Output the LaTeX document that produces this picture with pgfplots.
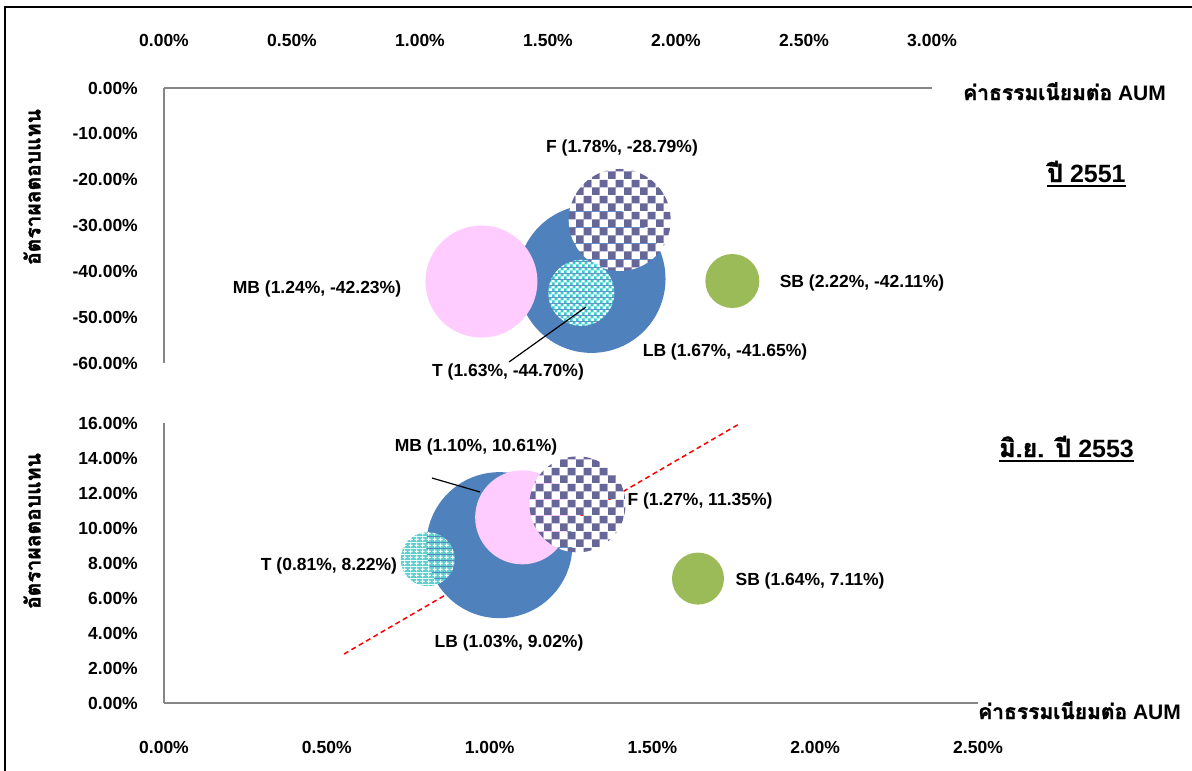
\documentclass[border=0pt]{standalone}
\usepackage{fontspec}
\setmainfont{Liberation Sans}
\newfontfamily\thaifont[Script=Thai, BoldFeatures={FakeBold=1.6}]{Loma}
\usepackage{pgfplots}
\pgfplotsset{compat=1.18}
\usetikzlibrary{patterns}

\definecolor{lbblue}{HTML}{4F81BD}
\definecolor{mbpink}{HTML}{FFCCFF}
\definecolor{sbgreen}{HTML}{9BBB59}
\definecolor{fpurple}{HTML}{666699}
\definecolor{tteal}{HTML}{33CCCC}
\definecolor{tteallight}{HTML}{5CCFCF}
\definecolor{axisgray}{HTML}{868686}

\newcommand\lbl{\fontsize{17.5}{21}\selectfont\bfseries}
\newcommand\ttl{\fontsize{21}{24}\selectfont\bfseries}
\newcommand\yr{\fontsize{25}{28}\selectfont\bfseries}

% fill patterns for the F and T bubbles
\pgfdeclarepatterninherentlycolored{fcheck}{\pgfpointorigin}{\pgfpoint{16pt}{16pt}}{\pgfpoint{16pt}{16pt}}{%
  \pgfsetfillcolor{white}\pgfpathrectangle{\pgfpointorigin}{\pgfpoint{16pt}{16pt}}\pgfusepath{fill}%
  \pgfsetfillcolor{fpurple}%
  \pgfpathrectangle{\pgfpointorigin}{\pgfpoint{8pt}{8pt}}%
  \pgfpathrectangle{\pgfpoint{8pt}{8pt}}{\pgfpoint{8pt}{8pt}}\pgfusepath{fill}}
\pgfdeclarepatterninherentlycolored{tcheck}{\pgfpointorigin}{\pgfpoint{6pt}{6pt}}{\pgfpoint{6pt}{6pt}}{%
  \pgfsetfillcolor{white}\pgfpathrectangle{\pgfpointorigin}{\pgfpoint{6pt}{6pt}}\pgfusepath{fill}%
  \pgfsetfillcolor{tteal}%
  \pgfpathrectangle{\pgfpointorigin}{\pgfpoint{3pt}{3pt}}%
  \pgfpathrectangle{\pgfpoint{3pt}{3pt}}{\pgfpoint{3pt}{3pt}}\pgfusepath{fill}}
\pgfdeclarepatterninherentlycolored{tcross}{\pgfpointorigin}{\pgfpoint{5.5pt}{5.5pt}}{\pgfpoint{5.5pt}{5.5pt}}{%
  \pgfsetfillcolor{tteallight}\pgfpathrectangle{\pgfpointorigin}{\pgfpoint{5.5pt}{5.5pt}}\pgfusepath{fill}%
  \pgfsetfillcolor{white}%
  \pgfpathrectangle{\pgfpoint{2.2pt}{0.6pt}}{\pgfpoint{1.1pt}{4.3pt}}%
  \pgfpathrectangle{\pgfpoint{0.6pt}{2.2pt}}{\pgfpoint{4.3pt}{1.1pt}}\pgfusepath{fill}}

% bubble marks
\pgfdeclareplotmark{lbdisc}{\pgfpathcircle{\pgfpointorigin}{\pgfplotmarksize}\pgfsetfillcolor{lbblue}\pgfusepathqfill}
\pgfdeclareplotmark{mbdisc}{\pgfpathcircle{\pgfpointorigin}{\pgfplotmarksize}\pgfsetfillcolor{mbpink}\pgfusepathqfill}
\pgfdeclareplotmark{sbdisc}{\pgfpathcircle{\pgfpointorigin}{\pgfplotmarksize}\pgfsetfillcolor{sbgreen}\pgfusepathqfill}
\pgfdeclareplotmark{fdisc}{\pgfpathcircle{\pgfpointorigin}{\pgfplotmarksize}\pgfsetfillpattern{fcheck}{black}\pgfusepathqfill}
\pgfdeclareplotmark{tdisc}{\pgfpathcircle{\pgfpointorigin}{\pgfplotmarksize}\pgfsetfillpattern{tcheck}{black}\pgfusepathqfill}
\pgfdeclareplotmark{tcrossdisc}{\pgfpathcircle{\pgfpointorigin}{\pgfplotmarksize}\pgfsetfillpattern{tcross}{black}\pgfusepathqfill}

\pgfplotsset{
  bubbleaxis/.style={
    scale only axis, clip=false,
    axis line style={draw=axisgray, line width=2pt},
    every outer x axis line/.append style={-},
    every outer y axis line/.append style={-},
    every inner x axis line/.append style={-},
    every inner y axis line/.append style={-},
    x axis line style={-},
    y axis line style={-},
    major tick length=0pt,
    xticklabel style={font=\lbl, anchor=center, inner sep=0pt},
    yticklabel style={font=\lbl, anchor=east, inner sep=0pt, xshift=-26pt},
  },
}

\begin{document}
\begin{tikzpicture}

% ---------- 2551 ----------
\begin{axis}[bubbleaxis,
  at={(164pt,-363pt)}, anchor=south west,
  width=768pt, height=275pt,
  xmin=0, xmax=3, ymin=-60, ymax=0,
  axis x line=top, axis y line=left,
  x axis line style={-}, y axis line style={-},
  xtick={0,0.5,1,1.5,2,2.5,3},
  xticklabels={0.00\%,0.50\%,1.00\%,1.50\%,2.00\%,2.50\%,3.00\%},
  ytick={-60,-50,-40,-30,-20,-10,0},
  yticklabels={-60.00\%,-50.00\%,-40.00\%,-30.00\%,-20.00\%,-10.00\%,0.00\%},
  xticklabel style={yshift=48pt},
]
\addplot[only marks, mark=lbdisc, mark size=74pt] coordinates {(1.67,-41.65)};
\addplot[only marks, mark=mbdisc, mark size=56pt] coordinates {(1.24,-42.23)};
\addplot[only marks, mark=fdisc, mark size=51pt] coordinates {(1.78,-28.79)};
\addplot[only marks, mark=tdisc, mark size=33pt] coordinates {(1.63,-44.70)};
\addplot[only marks, mark=sbdisc, mark size=27pt] coordinates {(2.22,-42.11)};
\end{axis}

% ---------- June 2553 ----------
\begin{axis}[bubbleaxis,
  at={(164pt,-703pt)}, anchor=south west,
  width=814pt, height=280pt,
  xmin=0, xmax=2.5, ymin=0, ymax=16,
  axis x line=bottom, axis y line=left,
  x axis line style={-}, y axis line style={-},
  xtick={0,0.5,1,1.5,2,2.5},
  xticklabels={0.00\%,0.50\%,1.00\%,1.50\%,2.00\%,2.50\%},
  ytick={0,2,4,6,8,10,12,14,16},
  yticklabels={0.00\%,2.00\%,4.00\%,6.00\%,8.00\%,10.00\%,12.00\%,14.00\%,16.00\%},
  xticklabel style={yshift=-44pt},
]
\addplot[only marks, mark=lbdisc, mark size=73pt] coordinates {(1.03,9.02)};
\addplot[only marks, mark=mbdisc, mark size=47pt] coordinates {(1.10,10.61)};
\addplot[only marks, mark=fdisc, mark size=48pt] coordinates {(1.27,11.35)};
\addplot[only marks, mark=tcrossdisc, mark size=27pt] coordinates {(0.81,8.22)};
\addplot[only marks, mark=sbdisc, mark size=26pt] coordinates {(1.64,7.11)};
% linear trend
\addplot[red, line width=1.5pt, dash pattern=on 5pt off 3.5pt] coordinates {(0.553,2.8) (1.766,15.94)};
\end{axis}

% data labels and leader lines
\begin{scope}[every node/.style={font=\lbl, inner sep=0pt}]
\node at (622pt,-148pt) {F (1.78\%, -28.79\%)};
\node at (317pt,-289pt) {MB (1.24\%, -42.23\%)};
\node at (508pt,-372pt) {T (1.63\%, -44.70\%)};
\node at (725pt,-352pt) {LB (1.67\%, -41.65\%)};
\node at (862pt,-283pt) {SB (2.22\%, -42.11\%)};
\draw[line width=1.2pt] (509pt,-362pt) -- (586pt,-307pt);

\node at (476pt,-447pt) {MB (1.10\%, 10.61\%)};
\node at (329pt,-566pt) {T (0.81\%, 8.22\%)};
\node at (509pt,-643pt) {LB (1.03\%, 9.02\%)};
\node at (700pt,-501pt) {F (1.27\%, 11.35\%)};
\node at (810pt,-581pt) {SB (1.64\%, 7.11\%)};
\draw[line width=1.2pt] (432pt,-478pt) -- (480pt,-492pt);
\end{scope}

% axis titles
\begin{scope}[every node/.style={inner sep=0pt}]
\node[anchor=base west] at (963pt,-100pt) {\ttl{\thaifont ค่าธรรมเนียมต่อ} AUM};
\node[anchor=base west] at (978pt,-719pt) {\ttl{\thaifont ค่าธรรมเนียมต่อ} AUM};
\node[rotate=90] at (32pt,-187pt) {\ttl\thaifont อัตราผลตอบแทน};
\node[rotate=90] at (32pt,-531pt) {\ttl\thaifont อัตราผลตอบแทน};

\node[anchor=base west] (y1) at (1047pt,-182pt) {\yr{\thaifont ปี} 2551};
\draw[line width=2pt] ([yshift=-4pt]y1.base west) -- ([yshift=-4pt]y1.base east);
\node[anchor=base west] (y2) at (999pt,-457pt) {\yr{\thaifont มิ.ย. ปี} 2553};
\draw[line width=2pt] ([yshift=-4pt]y2.base west) -- ([yshift=-4pt]y2.base east);
\end{scope}

% frame
\draw[line width=2.5pt] (5pt,-780pt) -- (5pt,-7pt) -- (1200pt,-7pt);

\pgfresetboundingbox
\path[use as bounding box] (0pt,0pt) rectangle (1192pt,-771pt);
\end{tikzpicture}
\end{document}
